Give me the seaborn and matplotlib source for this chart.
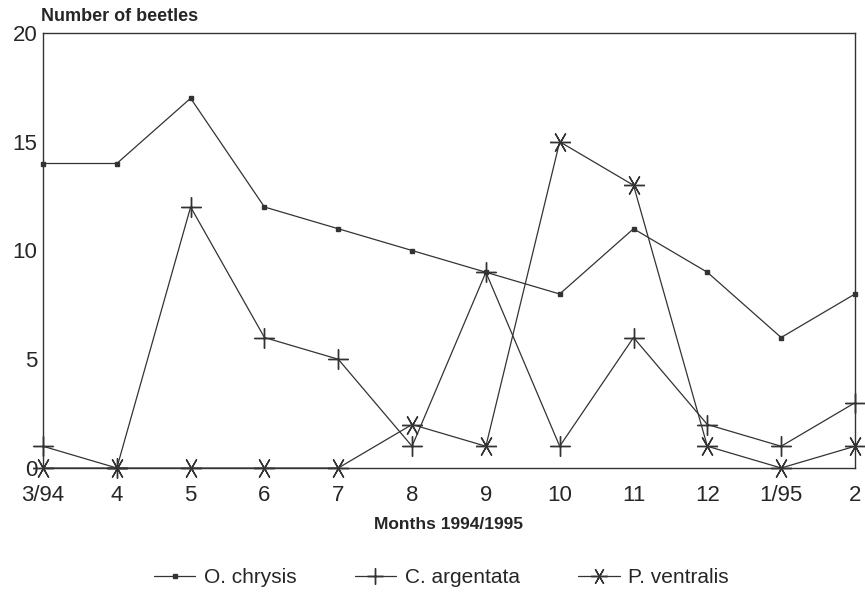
import numpy as np
import pandas as pd
import matplotlib
matplotlib.use("Agg")
import matplotlib.pyplot as plt
import seaborn as sns

months = ["3/94", "4", "5", "6", "7", "8", "9", "10", "11", "12", "1/95", "2"]
o_chrysis = [14, 14, 17, 12, 11, 10, 9, 8, 11, 9, 6, 8]
c_argentata = [1, 0, 12, 6, 5, 1, 9, 1, 6, 2, 1, 3]
p_ventralis = [0, 0, 0, 0, 0, 2, 1, 15, 13, 1, 0, 1]
species = ["O. chrysis", "C. argentata", "P. ventralis"]

sns.set_style("white")
plt.rcParams["font.family"] = ["Liberation Sans", "DejaVu Sans"]

# long format for seaborn
rows = []
for name, vals in zip(species, [o_chrysis, c_argentata, p_ventralis]):
    for i, v in enumerate(vals):
        rows.append({"pos": i, "count": v, "species": name})
df = pd.DataFrame(rows)

fig = plt.figure(figsize=(8.65, 6), dpi=100)
ax = fig.add_axes([0.0497, 0.22, 0.9387, 0.725])

line_col = "#333333"
markers = {"O. chrysis": "s", "C. argentata": (4, 2, 0), "P. ventralis": (6, 2, 90)}
sizes = {"O. chrysis": 3, "C. argentata": 14, "P. ventralis": 15}

for name in species:
    sub = df[df["species"] == name]
    sns.lineplot(data=sub, x="pos", y="count", ax=ax, color=line_col, lw=0.9,
                 marker=markers[name], markersize=sizes[name],
                 markeredgewidth=1.0, markeredgecolor=line_col,
                 markerfacecolor=line_col, label=name, clip_on=False)

ax.set_xlim(0, len(months) - 1)
ax.set_ylim(0, 20)
ax.set_xticks(range(len(months)))
ax.set_xticklabels(months, fontsize=16)
ax.set_yticks([0, 5, 10, 15, 20])
ax.tick_params(axis="y", labelsize=16, direction="in", length=6, width=0.8, pad=4)
ax.tick_params(axis="x", direction="in", length=6, width=0.8, pad=12)
for s in ax.spines.values():
    s.set_color("#333333")
    s.set_linewidth(1.0)

ax.set_xlabel("Months 1994/1995", fontsize=12.5, fontweight="bold", labelpad=8)
ax.set_ylabel("")
fig.text(0.047, 0.972, "Number of beetles", fontsize=13, fontweight="bold",
         ha="left", va="center")

ax.legend_.remove()
handles, labels = ax.get_legend_handles_labels()
fig.legend(handles, labels, loc="center", bbox_to_anchor=(0.51, 0.037), ncol=3,
           frameon=False, fontsize=15, handlelength=2.0, columnspacing=2.8,
           handletextpad=0.4, markerscale=0.8)

fig.savefig("out.png", dpi=100)
